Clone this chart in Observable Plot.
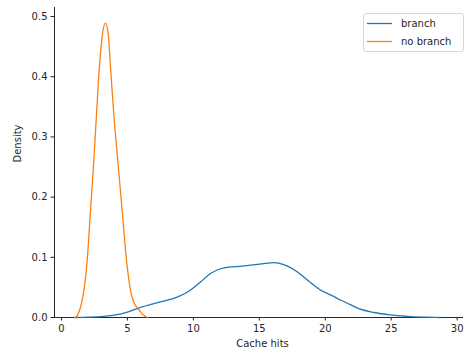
<!DOCTYPE html>
<html><head><meta charset="utf-8">
<script src="https://cdn.jsdelivr.net/npm/d3@7"></script>
<script src="https://cdn.jsdelivr.net/npm/@observablehq/plot@0.6"></script>
<style>body{margin:0;background:#fff;} #chart svg{display:block;}</style>
</head><body><div id="chart"></div>
<script>
const seriesNames = ["branch", "no branch"];
const seriesColors = ["#1f77b4", "#ff7f0e"];

const branchX = [1.0, 2.0, 3.0, 4.0, 5.0, 6.0, 7.0, 7.5, 8.77, 9.53, 10.54, 11.3, 12.05, 12.8, 13.5, 14.33, 15.2, 16.1, 16.85, 17.87, 18.6, 19.6, 20.64, 21.15, 21.9, 22.4, 23.7, 24.9, 26.2, 27.5, 28.7];
const branchY = [0.0, 0.0005, 0.0015, 0.004, 0.009, 0.017, 0.023, 0.026, 0.034, 0.042, 0.059, 0.073, 0.081, 0.084, 0.085, 0.087, 0.089, 0.091, 0.088, 0.076, 0.063, 0.046, 0.035, 0.029, 0.0215, 0.016, 0.0083, 0.0043, 0.002, 0.0007, 0.0];

const noBranchX = [1.0, 1.15, 1.3, 1.5, 1.7, 1.95, 2.2, 2.45, 2.65, 2.88, 3.1, 3.34, 3.55, 3.71, 3.97, 4.27, 4.6, 4.93, 5.28, 5.45, 5.61, 5.9, 6.2, 6.54];
const noBranchY = [0.0, 0.002, 0.008, 0.022, 0.045, 0.095, 0.178, 0.26, 0.336, 0.418, 0.47, 0.489, 0.47, 0.418, 0.336, 0.26, 0.178, 0.095, 0.040, 0.027, 0.020, 0.012, 0.004, 0.0];

const xTicks = [0, 5, 10, 15, 20, 25, 30];
const yTicks = [0.0, 0.1, 0.2, 0.3, 0.4, 0.5];

const branchData = branchX.map((x, i) => ({x, y: branchY[i]}));
const noBranchData = noBranchX.map((x, i) => ({x, y: noBranchY[i]}));

const chart = Plot.plot({
  width: 465,
  height: 354,
  marginLeft: 54,
  marginRight: 2,
  marginTop: 7,
  marginBottom: 37,
  style: {fontFamily: "DejaVu Sans", fontSize: "10px", color: "#262626", background: "#fff"},
  x: {domain: [-0.53, 30.48]},
  y: {domain: [0, 0.515]},
  marks: [
    Plot.axisX({ticks: xTicks, tickSize: 3.5, tickPadding: 3.5, tickFormat: d3.format("d"), label: null, fontSize: 10}),
    Plot.axisY({ticks: yTicks, tickSize: 3.5, tickPadding: 3.5, tickFormat: d3.format(".1f"), label: null, fontSize: 10}),
    Plot.ruleX([-0.53], {stroke: "#262626", strokeWidth: 1}),
    Plot.ruleY([0], {stroke: "#262626", strokeWidth: 1}),
    Plot.line(branchData, {x: "x", y: "y", stroke: seriesColors[0], strokeWidth: 1.3, curve: "monotone-x"}),
    Plot.line(noBranchData, {x: "x", y: "y", stroke: seriesColors[1], strokeWidth: 1.3, curve: "monotone-x"}),
    Plot.text(["Cache hits"], {frameAnchor: "bottom", dx: 3.5, dy: 29, fontSize: 10, fill: "#262626"}),
    Plot.text(["Density"], {frameAnchor: "left", rotate: -90, dx: -37, fontSize: 10, fill: "#262626"})
  ]
});
document.getElementById("chart").appendChild(chart);

// Legend
const svg = d3.select(chart);
const lg = svg.append("g").attr("font-family", "DejaVu Sans").attr("font-size", 10).attr("text-anchor", "start");
lg.append("rect").attr("x", 363.5).attr("y", 13.5).attr("width", 100).attr("height", 38)
  .attr("rx", 2.5).attr("fill", "#fff").attr("fill-opacity", 0.8).attr("stroke", "#d6d6d6");
seriesNames.forEach((name, i) => {
  const y = 23.5 + i * 18;
  lg.append("line").attr("x1", 367).attr("x2", 392).attr("y1", y).attr("y2", y)
    .attr("stroke", seriesColors[i]).attr("stroke-width", 1.3);
  lg.append("text").attr("x", 401).attr("y", y).attr("dy", "0.35em").attr("text-anchor", "start").attr("fill", "#262626").text(name);
});
</script>
</body></html>
